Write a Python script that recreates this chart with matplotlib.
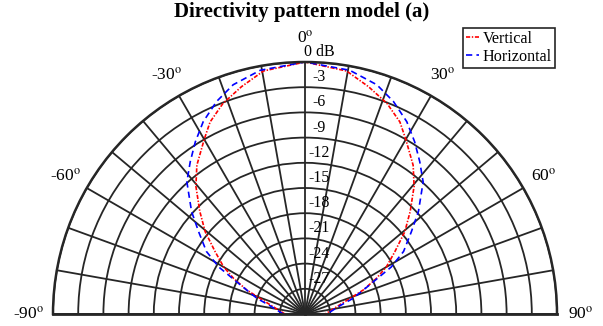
import numpy as np
import matplotlib
matplotlib.use("Agg")
import matplotlib.pyplot as plt
from matplotlib.transforms import ScaledTranslation

plt.rcParams['font.family'] = ['Liberation Serif', 'DejaVu Serif']
plt.rcParams['mathtext.fontset'] = 'stix'
plt.rcParams['lines.scale_dashes'] = False

# (degrees, dB)
vert_deg = [-90, -77, -70.8, -67.6, -63.5, -59.9, -55.3, -50.5, -45.7, -40.5, -36, -30,
            -26.3, -21.3, -15.6, -9.7, 0, 9.7, 15.6, 21.3, 26.3, 30, 36, 40.5, 45.7,
            50.5, 55.3, 59.9, 63.5, 67.6, 70.8, 77, 90]
vert_db = [-27.6, -26.1, -24.3, -22.5, -20.5, -18.8, -17.0, -14.6, -12.5, -10.0, -8.1, -6.0,
           -4.5, -3.1, -1.9, -0.65, 0, -0.65, -1.9, -3.1, -4.5, -6.0, -8.1, -10.0, -12.5,
           -14.6, -17.0, -18.8, -20.5, -22.5, -24.3, -26.1, -27.6]

horiz_deg = [-90, -76.6, -72, -66.6, -61.4, -57.6, -52.3, -47.9, -41.8, -37, -32.5, -27.9,
             -22.6, -17.4, -10.4, 0, 10.4, 17.4, 22.6, 27.9, 32.5, 37, 41.8, 47.9, 52.3,
             57.6, 61.4, 66.6, 72, 76.6, 90]
horiz_db = [-27.4, -25.7, -24.0, -22.0, -18.3, -16.1, -14.0, -11.8, -8.9, -7.3, -5.7, -4.1,
            -2.6, -1.4, -0.5, 0, -0.5, -1.4, -2.6, -4.1, -5.7, -7.3, -8.9, -11.8, -14.0,
            -16.1, -18.3, -22.0, -24.0, -25.7, -27.4]

ring_db = list(range(-30, 1, 3))
ring_labels = ['0 dB', '-3', '-6', '-9', '-12', '-15', '-18', '-21', '-24', '-27']
ring_vals = [0, -3, -6, -9, -12, -15, -18, -21, -24, -27]
spoke_deg = list(range(-90, 91, 10))
ang_label_deg = [-90, -60, -30, 0, 30, 60, 90]

W, H = 603, 326
fig = plt.figure(figsize=(W / 100, H / 100), dpi=100)
cx, cy, R = 305, 314, 252
# square box; the half disc sits between 1/4 and 3/4 of its height
ax = fig.add_axes([(cx - R) / W, (H - cy - R / 2) / H, 2 * R / W, 2 * R / H],
                  projection='polar')
ax.set_theta_zero_location('N')
ax.set_theta_direction(-1)
ax.set_thetamin(-90)
ax.set_thetamax(90)
ax.set_ylim(-30, 0)

gc = '#262626'
ax.set_xticks(np.deg2rad(spoke_deg))
ax.set_xticklabels([])
ax.set_yticks(ring_db)
ax.set_yticklabels([])
ax.tick_params(length=0)
ax.grid(True, color=gc, linewidth=1.3)
for s in ax.spines.values():
    s.set_color(gc)
ax.spines['polar'].set_linewidth(1.8)
ax.spines['start'].set_linewidth(2.0)
ax.spines['end'].set_linewidth(2.0)
ax.spines['inner'].set_visible(False)

ax.plot(np.deg2rad(vert_deg), vert_db, color='#ff0000', lw=1.2,
        linestyle=(0, (3.0, 1.2, 1.0, 1.2)), label='Vertical')
ax.plot(np.deg2rad(horiz_deg), horiz_db, color='#0000ff', lw=1.2,
        linestyle=(0, (4.5, 3.0)), label='Horizontal')

off = ax.transData + ScaledTranslation(14 / 100, 2 / 100, fig.dpi_scale_trans)
for v, lab in zip(ring_vals, ring_labels):
    ax.text(0, v, lab, transform=off, ha='center', va='bottom', fontsize=11.5)

for a in ang_label_deg:
    ax.text(np.deg2rad(a), 24 * 30 / R, '%d$^{\\mathrm{o}}$' % a,
            ha='center', va='center', fontsize=12.5)

fig.text(0.5, 1 - 12 / H, 'Directivity pattern model (a)', ha='center', va='center',
         fontsize=15, fontweight='bold')

leg = fig.legend(loc='upper right', bbox_to_anchor=(555 / W, 1 - 28 / H),
                 bbox_transform=fig.transFigure, borderaxespad=0, fontsize=11.6,
                 handlelength=0.8, handletextpad=0.25, borderpad=0.18, labelspacing=0.12,
                 fancybox=False, framealpha=1, edgecolor='#262626')
leg.get_frame().set_linewidth(1.2)

fig.savefig('out.png', dpi=100)
